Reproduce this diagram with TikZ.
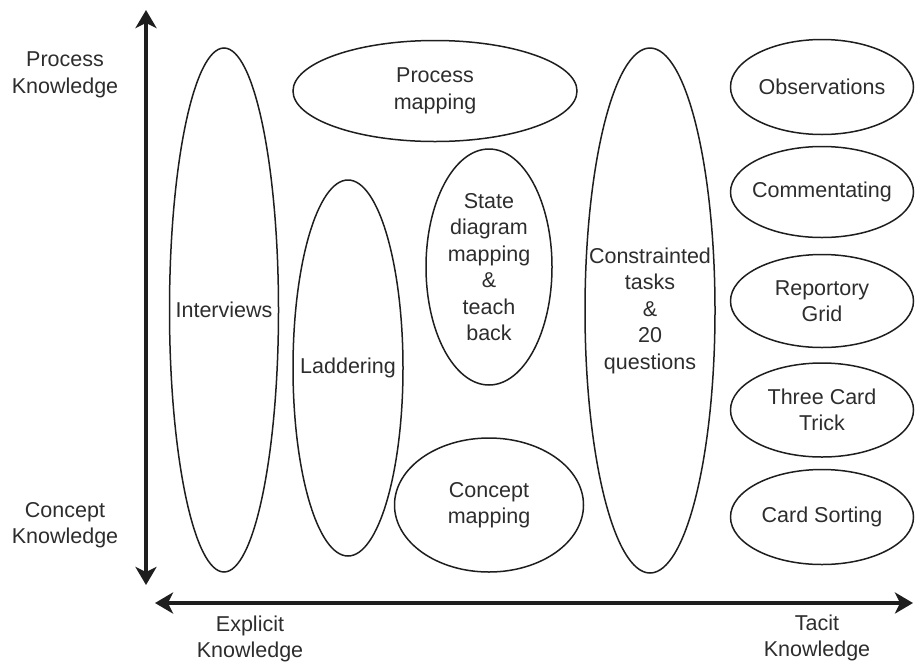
\documentclass[tikz,border=0pt]{standalone}
\usepackage{fontspec}
\setmainfont{Liberation Sans}
\usetikzlibrary{shapes.geometric,arrows.meta}
\definecolor{ink}{RGB}{30,30,30}
\definecolor{txtc}{RGB}{45,45,45}
\tikzset{
  ell/.style={draw=ink, line width=1.5pt, ellipse, inner sep=0pt},
  lbl/.style={text=txtc, align=center, inner sep=0pt, font=\fontsize{21.5}{26.5}\selectfont},
  axis/.style={line width=4pt, draw=ink, {Stealth[length=18pt,width=21pt,inset=5pt]}-{Stealth[length=18pt,width=21pt,inset=5pt]}}
}
\begin{document}
\begin{tikzpicture}[x=1pt,y=-1pt]
\useasboundingbox (0,0) rectangle (915,665);
% axes
\coordinate (vtop) at (146,10);
\coordinate (vbot) at (146,585);
\coordinate (hleft) at (155,603);
\coordinate (hright) at (913,603);
\draw[axis] (vtop) -- (vbot);
\draw[axis] (hleft) -- (hright);
% axis labels
\node[lbl] (pk) at (65,75) {Process\\Knowledge};
\node[lbl] (ck) at (65,525) {Concept\\Knowledge};
\node[lbl] (ek) at (250,639) {Explicit\\Knowledge};
\node[lbl] (tk) at (817,638) {Tacit\\Knowledge};
% ellipses
\node[ell, minimum width=109pt, minimum height=524pt] (intv) at (224,310) {};
\node[lbl] at (intv) {Interviews};
\node[ell, minimum width=284pt, minimum height=101pt] (pmap) at (435,91) {};
\node[lbl] at (pmap) {Process\\mapping};
\node[ell, minimum width=110pt, minimum height=376pt] (ladd) at (348,368) {};
\node[lbl] at (ladd) {Laddering};
\node[ell, minimum width=126pt, minimum height=236pt] (state) at (489,267) {};
\node[lbl] at (state) {State\\diagram\\mapping\\\&\\teach\\back};
\node[ell, minimum width=189pt, minimum height=134pt] (cmap) at (489,505) {};
\node[lbl] at (cmap) {Concept\\mapping};
\node[ell, minimum width=130pt, minimum height=525pt] (constr) at (650,310.5) {};
\node[lbl] at (constr) {Constrainted\\tasks\\\&\\20\\questions};
\node[ell, minimum width=183pt, minimum height=95pt] (obs) at (822,87) {};
\node[lbl] at (obs) {Observations};
\node[ell, minimum width=183pt, minimum height=91pt] (comm) at (822,192) {};
\node[lbl] at (comm) {Commentating};
\node[ell, minimum width=183pt, minimum height=93pt] (rep) at (822,301) {};
\node[lbl] at (rep) {Reportory\\Grid};
\node[ell, minimum width=183pt, minimum height=94pt] (tct) at (822,410) {};
\node[lbl] at (tct) {Three Card\\Trick};
\node[ell, minimum width=183pt, minimum height=95pt] (cs) at (822,517) {};
\node[lbl] at (cs) {Card Sorting};
\end{tikzpicture}
\end{document}
